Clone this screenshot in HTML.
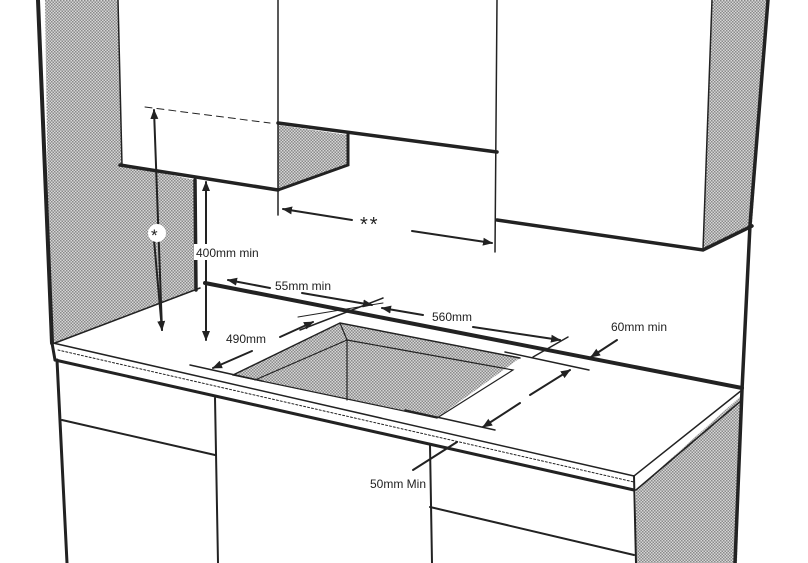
<!DOCTYPE html>
<html><head><meta charset="utf-8"><style>
html,body{margin:0;padding:0;background:#fff}
svg{display:block}
text{font-family:"Liberation Sans",sans-serif;font-size:13px;fill:#222}
</style></head><body>
<svg width="808" height="563" viewBox="0 0 808 563" xmlns="http://www.w3.org/2000/svg">
<defs>
<pattern id="g" width="3" height="3" patternUnits="userSpaceOnUse">
<rect width="3" height="3" fill="#d6d6d6"/><rect width="1.5" height="1.5" fill="#8a8a8a"/><rect x="1.5" y="1.5" width="1.5" height="1.5" fill="#8a8a8a"/>
</pattern>
<marker id="a" viewBox="0 0 10 10" refX="9" refY="5" markerWidth="5" markerHeight="5" orient="auto"><path d="M0,1 L10,5 L0,9 z" fill="#222"/></marker>
</defs>
<g fill="url(#g)" stroke="none">
<polygon points="45,0 118,0 122,165 195,180 195,290 55,343 50,343"/>
<polygon points="278,125 348,135 348,165 278,190"/>
<polygon points="712,0 768,0 752,225 703,250"/>
<polygon points="233,375 340,323 520,358 437,418"/>
<polygon points="636,490 742,395 737,563 636,563"/>
</g>
<g stroke="#222" fill="none" stroke-linecap="round">
<!-- left wall -->
<path d="M38,0 L52,343" stroke-width="4"/>
<path d="M57,360 L67,563" stroke-width="3"/>
<!-- left cabinet -->
<path d="M118,0 L122,165" stroke-width="1.5"/>
<path d="M120,165 L278,190" stroke-width="3.5"/>
<path d="M278,0 L278,215" stroke-width="1.5"/>
<path d="M278,123 L497,152" stroke-width="3.5"/>
<path d="M348,133 L348,165 L278,190" stroke-width="3"/>
<path d="M497,0 L495,252" stroke-width="1.5"/>
<path d="M497,220 L703,250 L752,226" stroke-width="3.5"/>
<path d="M712,0 L703,250" stroke-width="1.5"/>
<path d="M768,0 L750,225 L742,390 L735,563" stroke-width="3.5"/>
<!-- wall corner -->
<path d="M195,180 L196,290" stroke-width="3.5"/>
<!-- countertop -->
<path d="M205,283 L742,388" stroke-width="4"/>
<path d="M55,343 L200,288" stroke-width="1.5"/>
<path d="M53,343 L634,476" stroke-width="1.5"/>
<path d="M58,350 L634,482" stroke-width="1" stroke-dasharray="2,2"/>
<path d="M55,360 L634,490" stroke-width="3"/>
<path d="M52,343 L55,360" stroke-width="3"/>
<path d="M634,476 L742,390" stroke-width="1.5"/>
<path d="M636,490 L742,400" stroke-width="1.5"/>
<path d="M634,476 L636,563" stroke-width="2"/>
<!-- lower cabinets -->
<path d="M215,398 L218,563" stroke-width="2"/>
<path d="M62,420 L215,455" stroke-width="2"/>
<path d="M430,445 L432,563" stroke-width="2"/>
<path d="M430,507 L634,555" stroke-width="2"/>
<!-- sink -->
<path d="M233,375 L340,323 L520,358" stroke-width="1.5"/>
<path d="M340,323 L347,340 L347,400" stroke-width="1.2"/>
<path d="M347,340 L255,380" stroke-width="1.2"/>
<path d="M347,340 L513,370 L437,418" stroke-width="1.2"/>
<path d="M233,375 L437,418" stroke-width="1.2"/>
<!-- * dimension -->
<path d="M145,107 L270,123" stroke-width="1" stroke-dasharray="7,5"/>
<path d="M162,330 L154,110" stroke-width="2" marker-end="url(#a)"/>
<path d="M154,240 L162,330" stroke-width="2" marker-end="url(#a)"/>
<!-- 400 -->
<path d="M206,300 L206,182" stroke-width="2" marker-end="url(#a)"/>
<path d="M206,260 L206,340" stroke-width="2" marker-end="url(#a)"/>
<!-- ** -->
<path d="M352,220 L283,209" stroke-width="2" marker-end="url(#a)"/>
<path d="M412,231 L492,243" stroke-width="2" marker-end="url(#a)"/>
<!-- 55 -->
<path d="M270,288 L228,280" stroke-width="2" marker-end="url(#a)"/>
<path d="M302,293 L372,305" stroke-width="2" marker-end="url(#a)"/>
<!-- 560 -->
<path d="M383,298 L300,330" stroke-width="1.5"/>
<path d="M423,315 L382,308" stroke-width="2" marker-end="url(#a)"/>
<path d="M473,327 L560,340" stroke-width="2" marker-end="url(#a)"/>
<path d="M568,337 L533,357" stroke-width="1.5"/>
<!-- 490 -->
<path d="M298,317 L383,303" stroke-width="1"/>
<path d="M280,337 L313,322" stroke-width="2" marker-end="url(#a)"/>
<path d="M252,351 L213,368" stroke-width="2" marker-end="url(#a)"/>
<path d="M190,365 L262,381" stroke-width="1.5"/>
<!-- 60 -->
<path d="M617,340 L591,357" stroke-width="2" marker-end="url(#a)"/>
<path d="M505,352 L589,370" stroke-width="1.5"/>
<path d="M530,395 L570,370" stroke-width="2" marker-end="url(#a)"/>
<path d="M520,403 L483,427" stroke-width="2" marker-end="url(#a)"/>
<path d="M405,410 L495,430" stroke-width="1.5"/>
<!-- 50 -->
<path d="M457,442 L413,470" stroke-width="2"/>
</g>
<circle cx="157" cy="233" r="9" fill="#fff"/>
<text x="151" y="241" style="font-size:17px">*</text>
<rect x="194" y="244" width="76" height="16" fill="#fff"/>
<text x="196" y="257" style="font-size:12px">400mm min</text>
<text x="360" y="231" style="font-size:20px;letter-spacing:2px">**</text>
<text x="275" y="290" style="font-size:12px">55mm min</text>
<text x="432" y="321" style="font-size:12px">560mm</text>
<text x="226" y="343" style="font-size:12px">490mm</text>
<text x="611" y="331" style="font-size:12px">60mm min</text>
<text x="370" y="488" style="font-size:12px">50mm Min</text>
</svg>
</body></html>
